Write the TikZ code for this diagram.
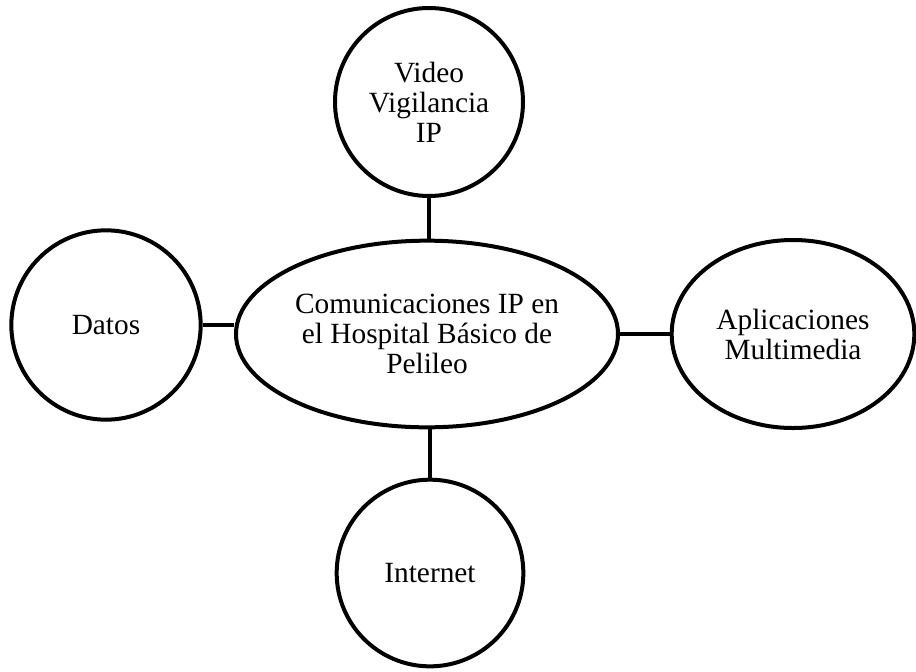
\documentclass[tikz,border=0pt]{standalone}
\usepackage{fontspec}
\setmainfont{Liberation Serif}
\usepackage{tikz}
\usetikzlibrary{shapes.geometric}

\begin{document}
\begin{tikzpicture}[x=0.75pt,y=0.75pt,yscale=-1,xscale=1]
\tikzset{
  bubble/.style={draw, line width=3pt, circle, inner sep=0pt, align=center, font=\fontsize{22}{22.5}\selectfont},
  oval/.style={draw, line width=3pt, ellipse, inner sep=0pt, align=center, font=\fontsize{22}{22.5}\selectfont},
  link/.style={line width=3pt}
}
\useasboundingbox (0,0) rectangle (916,671);

% Center Oval
\node [oval, minimum width=286.5pt, minimum height=140pt] (centro) at (427,334) {Comunicaciones IP en\\el Hospital Básico de\\Pelileo};
% Circles
\node [bubble, minimum size=141pt] (video) at (429,102) {Video\\Vigilancia\\IP};
\node [bubble, minimum size=142pt] (datos) at (106,325) {Datos};
\node [bubble, minimum size=140pt] (internet) at (430,573) {Internet};
% Right Oval
\node [oval, minimum width=182pt, minimum height=141pt] (aplic) at (793,334) {Aplicaciones\\Multimedia};

% Straight Lines
\draw [link] (video.south) -- (video.south |- centro.north);
\draw [link] (datos.east) -- (datos.east -| centro.west);
\draw [link] (centro.east) -- (centro.east -| aplic.west);
\draw [link] (internet.north) -- (internet.north |- centro.south);

\end{tikzpicture}
\end{document}
